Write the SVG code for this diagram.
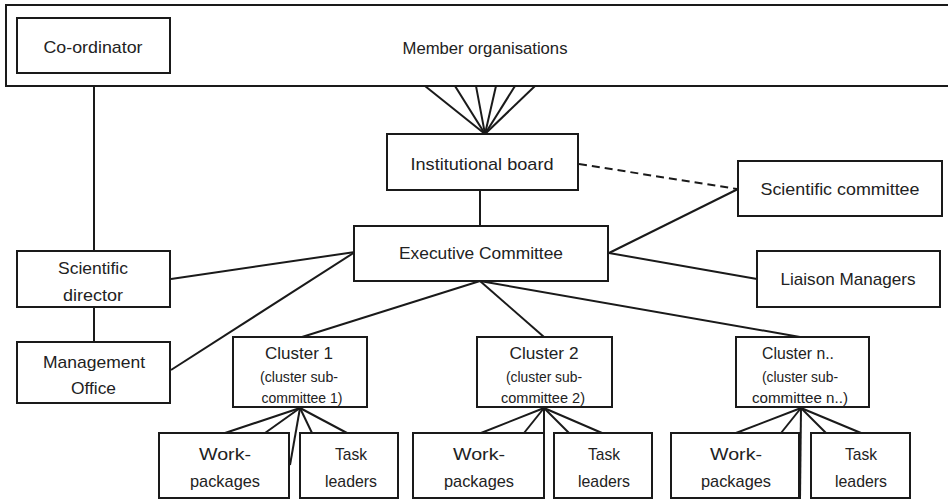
<svg xmlns="http://www.w3.org/2000/svg" width="948" height="499" viewBox="0 0 948 499">
<style>
.box{fill:#fff;stroke:#1a1a1a;stroke-width:2}
.ln{fill:none;stroke:#1a1a1a;stroke-width:2}
.dash{stroke-dasharray:8 5}
text{font-family:"Liberation Sans",Arial,sans-serif;font-size:17px;fill:#222;text-anchor:middle}
.sm{font-size:14px}
</style>
<rect width="948" height="499" fill="#fff"/>
<g id="member-organisations">
<rect class="box" x="6" y="5" width="945" height="81"/>
<text x="485" y="54" textLength="165" lengthAdjust="spacingAndGlyphs">Member organisations</text>
</g>
<g id="co-ordinator">
<rect class="box" x="17" y="18" width="153" height="55"/>
<text x="93" y="53" textLength="99" lengthAdjust="spacingAndGlyphs">Co-ordinator</text>
</g>
<g id="connectors">
<line class="ln" x1="94" y1="86" x2="94" y2="251"/>
<line class="ln" x1="94" y1="307" x2="94" y2="342"/>
<line class="ln" x1="425" y1="86" x2="485" y2="134"/>
<line class="ln" x1="455" y1="86" x2="485" y2="134"/>
<line class="ln" x1="476" y1="86" x2="485" y2="134"/>
<line class="ln" x1="496" y1="86" x2="485" y2="134"/>
<line class="ln" x1="515" y1="86" x2="485" y2="134"/>
<line class="ln" x1="535" y1="86" x2="485" y2="134"/>
<line class="ln" x1="480" y1="190" x2="480" y2="226"/>
<line class="ln dash" x1="579" y1="164" x2="737" y2="189"/>
<line class="ln" x1="609" y1="253" x2="738" y2="189"/>
<line class="ln" x1="609" y1="253" x2="757" y2="279"/>
<line class="ln" x1="171" y1="279" x2="355" y2="252"/>
<line class="ln" x1="171" y1="370" x2="355" y2="252"/>
<line class="ln" x1="480" y1="281" x2="302" y2="337"/>
<line class="ln" x1="480" y1="281" x2="544" y2="337"/>
<line class="ln" x1="480" y1="281" x2="800" y2="337"/>
<line class="ln" x1="300" y1="408" x2="225" y2="433"/>
<line class="ln" x1="300" y1="408" x2="265" y2="433"/>
<line class="ln" x1="300" y1="408" x2="290" y2="465"/>
<line class="ln" x1="300" y1="408" x2="312" y2="433"/>
<line class="ln" x1="300" y1="408" x2="347" y2="433"/>
<line class="ln" x1="544" y1="408" x2="481" y2="433"/>
<line class="ln" x1="544" y1="408" x2="524" y2="433"/>
<line class="ln" x1="544" y1="408" x2="544" y2="433"/>
<line class="ln" x1="544" y1="408" x2="569" y2="433"/>
<line class="ln" x1="544" y1="408" x2="602" y2="433"/>
<line class="ln" x1="801" y1="408" x2="736" y2="433"/>
<line class="ln" x1="801" y1="408" x2="781" y2="433"/>
<line class="ln" x1="801" y1="408" x2="800" y2="499"/>
<line class="ln" x1="801" y1="408" x2="826" y2="433"/>
<line class="ln" x1="801" y1="408" x2="861" y2="433"/>
</g>
<g id="institutional-board">
<rect class="box" x="387" y="134" width="191" height="56"/>
<text x="482" y="170" textLength="143" lengthAdjust="spacingAndGlyphs">Institutional board</text>
</g>
<g id="scientific-committee">
<rect class="box" x="738" y="161" width="204" height="55"/>
<text x="840" y="195" textLength="159" lengthAdjust="spacingAndGlyphs">Scientific committee</text>
</g>
<g id="executive-committee">
<rect class="box" x="354" y="226" width="254" height="55"/>
<text x="481" y="259" textLength="164" lengthAdjust="spacingAndGlyphs">Executive Committee</text>
</g>
<g id="liaison-managers">
<rect class="box" x="757" y="251" width="183" height="56"/>
<text x="848" y="285" textLength="135" lengthAdjust="spacingAndGlyphs">Liaison Managers</text>
</g>
<g id="scientific-director">
<rect class="box" x="17" y="251" width="153" height="56"/>
<text x="93" y="274" textLength="70" lengthAdjust="spacingAndGlyphs">Scientific</text>
<text x="93" y="301" textLength="60" lengthAdjust="spacingAndGlyphs">director</text>
</g>
<g id="management-office">
<rect class="box" x="17" y="342" width="153" height="61"/>
<text x="94" y="368" textLength="102" lengthAdjust="spacingAndGlyphs">Management</text>
<text x="93.5" y="394" textLength="45" lengthAdjust="spacingAndGlyphs">Office</text>
</g>
<g id="cluster-1">
<rect class="box" x="233" y="337" width="134" height="70"/>
<text x="299" y="359" textLength="68" lengthAdjust="spacingAndGlyphs">Cluster 1</text>
<text class="sm" x="299" y="382" textLength="78" lengthAdjust="spacingAndGlyphs">(cluster sub-</text>
<text class="sm" x="302" y="403" textLength="81" lengthAdjust="spacingAndGlyphs">committee 1)</text>
</g>
<g id="cluster-2">
<rect class="box" x="477" y="337" width="135" height="70"/>
<text x="544" y="359" textLength="69" lengthAdjust="spacingAndGlyphs">Cluster 2</text>
<text class="sm" x="544" y="382" textLength="76" lengthAdjust="spacingAndGlyphs">(cluster sub-</text>
<text class="sm" x="543" y="403" textLength="84" lengthAdjust="spacingAndGlyphs">committee 2)</text>
</g>
<g id="cluster-n">
<rect class="box" x="736" y="337" width="133" height="70"/>
<text x="798" y="359" textLength="72" lengthAdjust="spacingAndGlyphs">Cluster n..</text>
<text class="sm" x="800" y="382" textLength="76" lengthAdjust="spacingAndGlyphs">(cluster sub-</text>
<text class="sm" x="800" y="403" textLength="96" lengthAdjust="spacingAndGlyphs">committee n..)</text>
</g>
<g id="work-packages-1">
<rect class="box" x="159" y="433" width="130" height="65"/>
<text x="225" y="460" textLength="52" lengthAdjust="spacingAndGlyphs">Work-</text>
<text x="225" y="487" textLength="70" lengthAdjust="spacingAndGlyphs">packages</text>
</g>
<g id="task-leaders-1">
<rect class="box" x="300" y="433" width="98" height="65"/>
<text x="351" y="460" textLength="32" lengthAdjust="spacingAndGlyphs">Task</text>
<text x="351" y="487" textLength="52" lengthAdjust="spacingAndGlyphs">leaders</text>
</g>
<g id="work-packages-2">
<rect class="box" x="413" y="433" width="131" height="65"/>
<text x="479" y="460" textLength="52" lengthAdjust="spacingAndGlyphs">Work-</text>
<text x="479" y="487" textLength="70" lengthAdjust="spacingAndGlyphs">packages</text>
</g>
<g id="task-leaders-2">
<rect class="box" x="554" y="433" width="98" height="65"/>
<text x="604" y="460" textLength="32" lengthAdjust="spacingAndGlyphs">Task</text>
<text x="604" y="487" textLength="52" lengthAdjust="spacingAndGlyphs">leaders</text>
</g>
<g id="work-packages-n">
<rect class="box" x="671" y="433" width="128" height="65"/>
<text x="736" y="460" textLength="52" lengthAdjust="spacingAndGlyphs">Work-</text>
<text x="736" y="487" textLength="70" lengthAdjust="spacingAndGlyphs">packages</text>
</g>
<g id="task-leaders-n">
<rect class="box" x="811" y="433" width="99" height="65"/>
<text x="861" y="460" textLength="32" lengthAdjust="spacingAndGlyphs">Task</text>
<text x="861" y="487" textLength="52" lengthAdjust="spacingAndGlyphs">leaders</text>
</g>
</svg>
